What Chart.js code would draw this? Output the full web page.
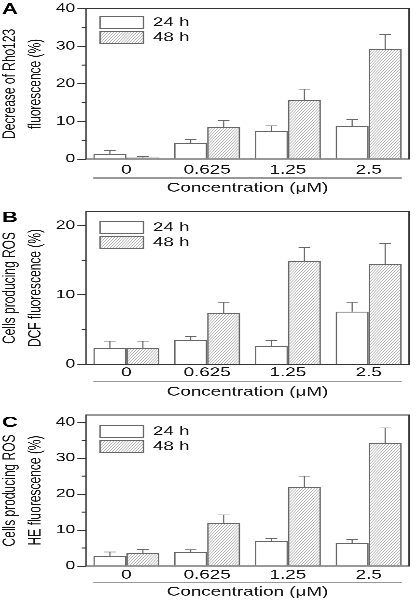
<!DOCTYPE html>
<html>
<head>
<meta charset="utf-8">
<script src="https://cdn.jsdelivr.net/npm/chart.js@4.4.1/dist/chart.umd.min.js"></script>
<style>
  html, body { margin: 0; padding: 0; background: #fff; }
  .panel { position: absolute; left: 0; width: 417px; height: 200px; }
</style>
</head>
<body>
<div class="panel" style="top:0"><canvas id="chartA" width="288" height="200" style="width:417px;height:200px"></canvas></div>
<div class="panel" style="top:200px"><canvas id="chartB" width="288" height="200" style="width:417px;height:200px"></canvas></div>
<div class="panel" style="top:400px"><canvas id="chartC" width="288" height="200" style="width:417px;height:200px"></canvas></div>
<script>
const categories = ['0', '0.625', '1.25', '2.5'];
const seriesNames = ['24 h', '48 h'];
const xTitle = 'Concentration (μM)';

// A - decrease of Rho123 fluorescence
const rho24 = [1.4, 4.3, 7.5, 8.8];
const rho24Err = [0.9, 0.9, 1.3, 1.7];
const rho48 = [0.4, 8.5, 15.8, 29.2];
const rho48Err = [0.2, 1.7, 2.8, 3.9];
const rhoTicks = [0, 10, 20, 30, 40];

// B - cells producing ROS, DCF
const dcf24 = [2.3, 3.45, 2.6, 7.6];
const dcf24Err = [1.05, 0.55, 0.85, 1.35];
const dcf48 = [2.3, 7.35, 14.85, 14.45];
const dcf48Err = [1.05, 1.6, 1.95, 3.0];
const dcfTicks = [0, 10, 20];

// C - cells producing ROS, HE
const he24 = [2.8, 3.9, 7.0, 6.3];
const he24Err = [1.1, 0.6, 0.7, 1.0];
const he48 = [3.6, 12.0, 22.0, 34.2];
const he48Err = [1.0, 2.2, 3.0, 4.2];
const heTicks = [0, 10, 20, 30, 40];

// the original figure is stretched sideways, so each canvas is drawn
// 288 px wide and shown at 417 px
const DPR = 3;
const FONT = "'Liberation Sans', Arial, sans-serif";
const PLOT_LEFT = 59.4;
Chart.defaults.font.family = FONT;
Chart.defaults.color = '#111';

function makeHatch() {
  const c = document.createElement('canvas');
  c.width = 2 * DPR;
  c.height = 3 * DPR;
  const g = c.getContext('2d');
  g.strokeStyle = '#8a8a8a';
  g.lineWidth = 1.2;
  for (const dx of [-c.width, 0, c.width]) {
    g.beginPath();
    g.moveTo(dx, c.height);
    g.lineTo(dx + c.width, 0);
    g.stroke();
  }
  const pat = g.createPattern(c, 'repeat');
  pat.setTransform(new DOMMatrix([1 / DPR, 0, 0, 1 / DPR, 0, 0]));
  return pat;
}
const hatch = makeHatch();

const errorBars = {
  id: 'errorBars',
  afterDatasetsDraw(chart) {
    const { ctx } = chart;
    const y = chart.scales.y;
    ctx.save();
    ctx.strokeStyle = '#666';
    ctx.lineWidth = 0.8;
    chart.data.datasets.forEach((ds, i) => {
      chart.getDatasetMeta(i).data.forEach((bar, j) => {
        const top = y.getPixelForValue(ds.data[j] + ds.errors[j]);
        ctx.beginPath();
        ctx.moveTo(bar.x, bar.y);
        ctx.lineTo(bar.x, top);
        ctx.moveTo(bar.x - 4, top);
        ctx.lineTo(bar.x + 4, top);
        ctx.stroke();
      });
    });
    ctx.restore();
  }
};

const panelDecor = {
  id: 'panelDecor',
  afterLayout(chart, args, o) {
    // put the legend inside the plot, top left
    const lg = chart.legend;
    lg.left = o.legendX;
    lg.top = chart.chartArea.top + o.legendDy;
    lg.right = lg.left + lg.width;
    lg.bottom = lg.top + lg.height;
  },
  afterDraw(chart, args, o) {
    const { ctx, chartArea: a } = chart;
    const y = chart.scales.y;
    ctx.save();
    ctx.strokeStyle = '#333';
    ctx.lineWidth = 1;
    ctx.strokeRect(a.left, a.top, a.width, a.height);
    // minor ticks
    ctx.beginPath();
    for (let v = 5; v < y.max; v += 10) {
      const py = y.getPixelForValue(v);
      ctx.moveTo(a.left - 3, py);
      ctx.lineTo(a.left, py);
    }
    ctx.stroke();
    // rule between tick labels and axis title
    ctx.strokeStyle = o.ruleColor;
    ctx.beginPath();
    ctx.moveTo(a.left + 5, o.ruleY);
    ctx.lineTo(a.right - 5, o.ruleY);
    ctx.stroke();
    ctx.fillStyle = '#000';
    ctx.font = 'bold 15px ' + FONT;
    ctx.fillText(o.letter, 1.4, o.letterY);
    ctx.restore();
  }
};

function drawPanel(p) {
  new Chart(document.getElementById(p.id), {
    type: 'bar',
    data: {
      labels: categories,
      datasets: [
        { label: seriesNames[0], data: p.s24, errors: p.e24, backgroundColor: '#fff', borderColor: '#666', borderWidth: 1 },
        { label: seriesNames[1], data: p.s48, errors: p.e48, backgroundColor: hatch, borderColor: '#666', borderWidth: 1 }
      ]
    },
    options: {
      responsive: false,
      devicePixelRatio: DPR,
      animation: false,
      events: [],
      layout: { padding: { top: p.top, right: 5.5, bottom: 0, left: 0 } },
      datasets: { bar: { categoryPercentage: 0.817, barPercentage: 1 } },
      scales: {
        x: {
          afterFit: s => { s.height = 200 - p.bottom; },
          grid: { display: false, drawTicks: false },
          border: { display: false },
          ticks: { padding: p.tickPad, font: { size: 13 } },
          title: { display: true, text: xTitle, font: { size: 13 }, padding: { top: 0, bottom: p.titlePad } }
        },
        y: {
          min: 0,
          max: p.yMax,
          afterFit: s => { s.width = PLOT_LEFT; },
          afterBuildTicks: s => { s.ticks = p.ticks.map(v => ({ value: v })); },
          grid: { drawOnChartArea: false, tickLength: 6, color: '#333' },
          border: { display: false },
          ticks: { padding: 1.5, font: { size: 12 } },
          title: { display: true, text: p.yTitle, font: { size: 12, lineHeight: 1.47 }, padding: { top: -1.9, bottom: 0 } }
        }
      },
      plugins: {
        tooltip: { enabled: false },
        legend: {
          position: 'chartArea',
          align: 'start',
          fullSize: false,
          labels: { boxWidth: 30, boxHeight: 12, padding: 2, textAlign: 'left', font: { size: 13 }, color: '#111' }
        },
        panelDecor: { letter: p.letter, letterY: p.letterY, ruleY: p.ruleY, ruleColor: p.ruleColor, legendX: 67.1, legendDy: p.legendDy }
      }
    },
    plugins: [errorBars, panelDecor]
  });
}

drawPanel({ id: 'chartA', letter: 'A', s24: rho24, e24: rho24Err, s48: rho48, e48: rho48Err, ticks: rhoTicks,
  yMax: 40, yTitle: ['Decrease of Rho123', 'fluorescence (%)'],
  top: 7, bottom: 159, tickPad: 3.2, titlePad: 4.2, ruleY: 178, ruleColor: '#333', legendDy: 5.5, letterY: 13.5 });
drawPanel({ id: 'chartB', letter: 'B', s24: dcf24, e24: dcf24Err, s48: dcf48, e48: dcf48Err, ticks: dcfTicks,
  yMax: 22, yTitle: ['Cells producing ROS', 'DCF fluorescence (%)'],
  top: 11.7, bottom: 164.3, tickPad: 0.7, titlePad: 0, ruleY: 181.7, ruleColor: '#999', legendDy: 7.5, letterY: 22 });
drawPanel({ id: 'chartC', letter: 'C', s24: he24, e24: he24Err, s48: he48, e48: he48Err, ticks: heTicks,
  yMax: 42, yTitle: ['Cells producing ROS', 'HE fluorescence (%)'],
  top: 15, bottom: 166, tickPad: 1.2, titlePad: 0, ruleY: 182.7, ruleColor: '#999', legendDy: 8.2, letterY: 27 });
</script>
</body>
</html>
